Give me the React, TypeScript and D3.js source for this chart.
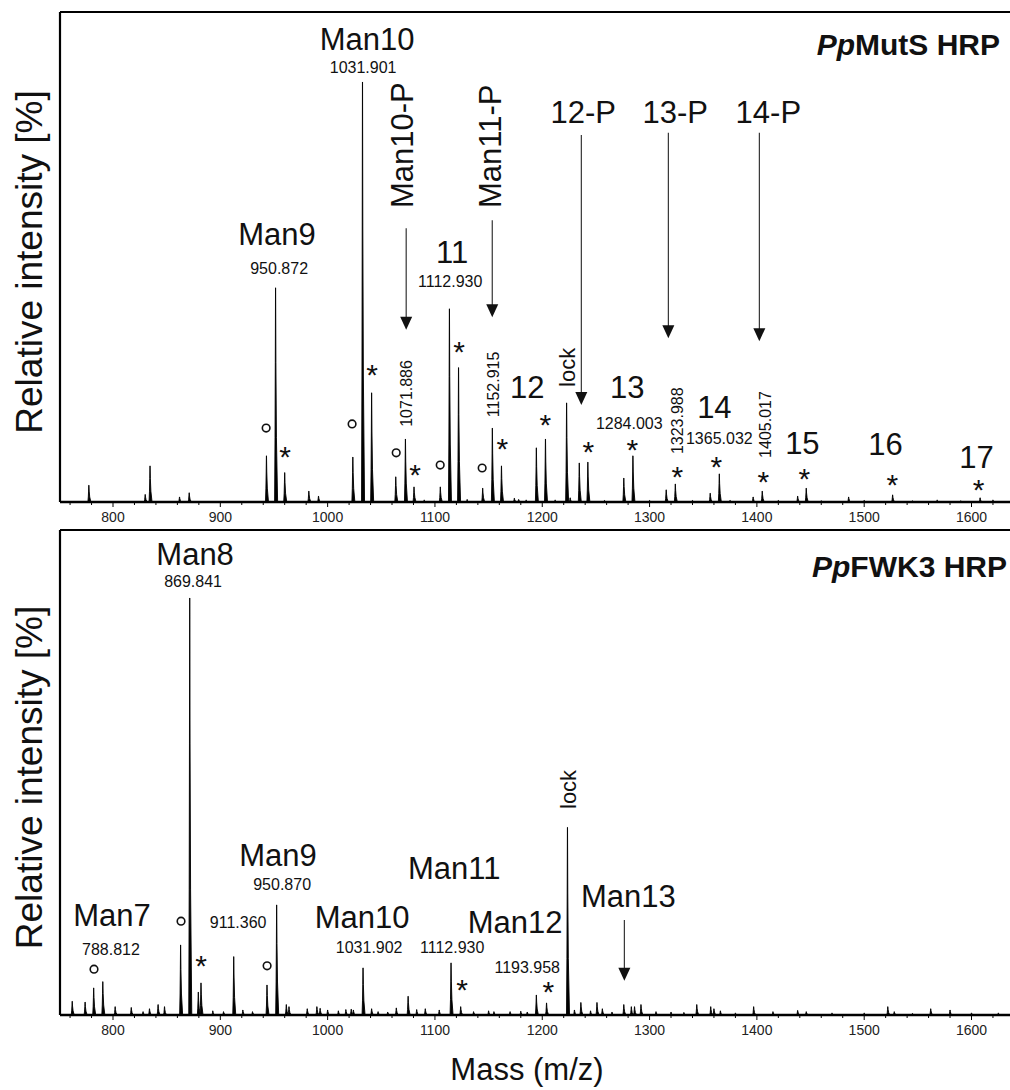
import React from 'react';
import * as d3 from 'd3';

const FONT = '"Liberation Sans", Arial, Helvetica, sans-serif';

const massTicks = [800, 900, 1000, 1100, 1200, 1300, 1400, 1500, 1600];
const minorTicks = d3.range(760, 1640, 20);

// [m/z, relative intensity %]
const mutsPeaks: [number, number][] = [
  [777.5, 4], [830, 1.8], [834.5, 8.6], [862, 1.2], [871, 2.2], [943, 11], [951.5, 51], [960, 7],
  [982.5, 2.6], [991.5, 1.4], [1023.5, 10.7], [1032.5, 100], [1041, 26], [1063.5, 6], [1072.5, 15],
  [1080.5, 3.6], [1090, 0.5], [1105, 3.6], [1113.5, 46], [1122, 32], [1130, 0.6], [1144.5, 3.3],
  [1153.5, 17.6], [1162, 8.6], [1174, 0.9], [1178, 0.6], [1185, 0.5], [1194.5, 12.9], [1203, 15],
  [1212, 0.5], [1222.7, 23.6], [1226, 1], [1234.5, 9.3], [1242.5, 9.5], [1258, 0.4], [1276, 5.7],
  [1284.5, 11], [1300, 0.4], [1315.5, 2.9], [1324, 4.3], [1340, 0.4], [1356.5, 2.1], [1365, 6.7],
  [1375, 0.4], [1396.5, 1.2], [1405, 2.6], [1420, 0.4], [1438, 1.4], [1446, 3.3], [1460, 0.3],
  [1485.5, 1.2], [1500, 0.4], [1526.5, 1.7], [1545, 0.3], [1568, 0.5], [1590, 0.3], [1608, 1], [1620, 0.5]
];

const fwk3Peaks: [number, number][] = [
  [762, 3.3], [774, 3.1], [782, 6.5], [790.5, 8], [802, 2], [817, 1.8], [828, 0.8], [834, 1.5], [842, 2.5],
  [848, 2], [863, 16.8], [871.5, 100], [879.5, 5.5], [882, 7.7], [893, 1], [903, 0.8], [912.5, 14],
  [921, 1.2], [930, 0.8], [943.5, 7.2], [952.5, 26.4], [961.5, 2.5], [964, 2], [981, 1.5], [990, 2],
  [993, 1.6], [1000, 1.2], [1010, 1], [1017, 1.3], [1022, 1.4], [1024, 1.2], [1033, 11.3], [1041, 1.5],
  [1047, 0.8], [1056, 0.7], [1064, 1.7], [1075, 4.5], [1083, 1.3], [1091, 1.5], [1104, 1.2], [1115, 12.5],
  [1124, 2], [1136, 0.8], [1150, 1], [1155, 0.8], [1170, 0.8], [1180, 0.9], [1186, 0.7], [1194.5, 4.8],
  [1204, 2.9], [1223.5, 45], [1230, 1.2], [1236, 3], [1245, 1], [1251, 3], [1256, 1.5], [1265, 0.7],
  [1276, 2.5], [1283, 2], [1286, 2], [1292, 2.5], [1306, 0.8], [1320, 0.7], [1332, 0.6], [1344, 2.5],
  [1357, 2], [1360, 1.5], [1366, 1], [1380, 0.5], [1397, 2], [1415, 0.8], [1438, 1.1], [1446, 0.8],
  [1470, 0.5], [1500, 0.5], [1522, 2], [1528, 0.8], [1545, 0.4], [1562, 1.5], [1580, 1.2], [1600, 0.5], [1625, 0.5]
];

// annotation text: kind picks the font, level is intensity % of baseline/bottom end
type Label = { text: string; kind: 'name' | 'mass' | 'lock'; mz: number; level: number; up?: boolean };

const mutsLabels: Label[] = [
  { text: 'Man10', kind: 'name', mz: 1036.8, level: 107.6 },
  { text: '1031.901', kind: 'mass', mz: 1033.1, level: 102.1 },
  { text: 'Man9', kind: 'name', mz: 952.9, level: 61.2 },
  { text: '950.872', kind: 'mass', mz: 954.8, level: 54.3 },
  { text: '11', kind: 'name', mz: 1116.1, level: 56.9 },
  { text: '1112.930', kind: 'mass', mz: 1114.2, level: 51.2 },
  { text: '12', kind: 'name', mz: 1186, level: 24.8 },
  { text: '13', kind: 'name', mz: 1279.3, level: 24.8 },
  { text: '1284.003', kind: 'mass', mz: 1281.1, level: 17.4 },
  { text: '14', kind: 'name', mz: 1360.4, level: 20 },
  { text: '1365.032', kind: 'mass', mz: 1365, level: 13.8 },
  { text: '15', kind: 'name', mz: 1442.4, level: 11.4 },
  { text: '16', kind: 'name', mz: 1519.8, level: 11.2 },
  { text: '17', kind: 'name', mz: 1604.7, level: 8.1 },
  { text: '12-P', kind: 'name', mz: 1238.2, level: 90.2 },
  { text: '13-P', kind: 'name', mz: 1324, level: 90.2 },
  { text: '14-P', kind: 'name', mz: 1410.7, level: 90.2 },
  { text: 'Man10-P', kind: 'name', mz: 1069.4, level: 70, up: true },
  { text: 'Man11-P', kind: 'name', mz: 1151.5, level: 70, up: true },
  { text: '1071.886', kind: 'mass', mz: 1073, level: 17.9, up: true },
  { text: '1152.915', kind: 'mass', mz: 1154.3, level: 20.2, up: true },
  { text: 'lock', kind: 'lock', mz: 1223.3, level: 27.4, up: true },
  { text: '1323.988', kind: 'mass', mz: 1325.9, level: 11.4, up: true },
  { text: '1405.017', kind: 'mass', mz: 1407.9, level: 10.5, up: true }
];

const fwk3Labels: Label[] = [
  { text: 'Man8', kind: 'name', mz: 876.5, level: 107.9 },
  { text: '869.841', kind: 'mass', mz: 874.6, level: 102.6 },
  { text: 'Man7', kind: 'name', mz: 799, level: 21.3 },
  { text: '788.812', kind: 'mass', mz: 798.1, level: 14.4 },
  { text: '911.360', kind: 'mass', mz: 916.6, level: 20.9 },
  { text: 'Man9', kind: 'name', mz: 953.8, level: 35.7 },
  { text: '950.870', kind: 'mass', mz: 957.6, level: 30 },
  { text: 'Man10', kind: 'name', mz: 1032.2, level: 20.9 },
  { text: '1031.902', kind: 'mass', mz: 1038.7, level: 14.9 },
  { text: 'Man11', kind: 'name', mz: 1117.9, level: 32.6 },
  { text: '1112.930', kind: 'mass', mz: 1116.1, level: 14.9 },
  { text: 'Man12', kind: 'name', mz: 1174.8, level: 19.7 },
  { text: '1193.958', kind: 'mass', mz: 1186, level: 10.1 },
  { text: 'Man13', kind: 'name', mz: 1280.2, level: 25.9 },
  { text: 'lock', kind: 'lock', mz: 1224.2, level: 49.4, up: true }
];

// arrows: [m/z, from %, to %]
const mutsArrows: [number, number, number][] = [
  [1073.2, 65.2, 41], [1153.4, 67.1, 44], [1236.4, 87.4, 23.1], [1317.5, 87.9, 39], [1402.3, 87.9, 38.3]
];
const fwk3Arrows: [number, number, number][] = [[1276.5, 22.8, 8.2]];

// "o" and "*" marks: [m/z, %]
const mutsCircles: [number, number][] = [[942.7, 17.6], [1022.8, 18.6], [1063.9, 11.7], [1104.9, 8.8], [1144, 8.1]];
const mutsStars: [number, number][] = [
  [960.4, 12.4], [1041.5, 31.9], [1081.6, 8.1], [1122.6, 37.4], [1162.7, 14.3], [1202.8, 20], [1242.9, 13.6],
  [1283.9, 14], [1325.9, 7.6], [1362.2, 10], [1406.1, 6.4], [1444.3, 7.1], [1526.3, 5.7], [1606.5, 4.5]
];
const fwk3Circles: [number, number][] = [[782.3, 11], [863.4, 22.5], [943.6, 11.8]];
const fwk3Stars: [number, number][] = [[882, 13.4], [1125.4, 7.7], [1205.6, 7.2]];

const x = d3.scaleLinear().domain([800, 1600]).range([113, 971.5]);
const LEFT = 60;
const RIGHT = 1010;

const fontSize = { name: 31, mass: 16, lock: 22 };

function peakPath(y: d3.ScaleLinear<number, number>, mz: number, h: number) {
  const line = d3.line<[number, number]>().x(d => x(d[0])).y(d => y(d[1]));
  return line([
    [mz - 0.9, 0], [mz - 0.5, h * 0.3], [mz - 0.25, h * 0.65], [mz - 0.05, h],
    [mz + 0.05, h], [mz + 0.3, h * 0.65], [mz + 0.8, h * 0.3], [mz + 1.9, 0]
  ]);
}

function Panel({ top, y, peaks, labels, arrows, circles, stars, title, sub }: any) {
  const base = y(0);
  return (
    <g>
      <line x1={LEFT} x2={RIGHT} y1={top} y2={top} stroke="#000" strokeWidth={2.2} />
      <line x1={LEFT} x2={LEFT} y1={top} y2={base} stroke="#000" strokeWidth={2.2} />
      {peaks.map((p: [number, number], i: number) => (
        <path key={i} d={peakPath(y, p[0], p[1]) as string} fill="#000" stroke="#000" strokeWidth={0.9} strokeLinejoin="round" />
      ))}
      <line x1={LEFT} x2={RIGHT} y1={base} y2={base} stroke="#000" strokeWidth={2.4} />
      {minorTicks.map(t => (
        <line key={t} x1={x(t)} x2={x(t)} y1={base} y2={base + (t % 100 === 0 ? 5 : 3)} stroke="#000" strokeWidth={1} />
      ))}
      {massTicks.map(t => (
        <text key={t} x={x(t)} y={base + 20} textAnchor="middle" fontSize={14} fill="#222">{t}</text>
      ))}
      {labels.map((l: Label, i: number) => l.up ? (
        <text key={i} transform={`translate(${x(l.mz)},${y(l.level)}) rotate(-90)`} dy="0.35em"
          fontSize={fontSize[l.kind]} fill="#111">{l.text}</text>
      ) : (
        <text key={i} x={x(l.mz)} y={y(l.level)} textAnchor="middle" fontSize={fontSize[l.kind]} fill="#111">{l.text}</text>
      ))}
      {arrows.map((a: [number, number, number], i: number) => {
        const ax = x(a[0]);
        const y1 = y(a[1]);
        const y2 = y(a[2]);
        return (
          <g key={i}>
            <line x1={ax} x2={ax} y1={y1} y2={y2 - 12} stroke="#222" strokeWidth={1.1} />
            <path d={`M${ax - 6},${y2 - 13}L${ax + 6},${y2 - 13}L${ax},${y2}Z`} fill="#111" />
          </g>
        );
      })}
      {circles.map((c: [number, number], i: number) => (
        <circle key={i} cx={x(c[0])} cy={y(c[1])} r={3.8} fill="none" stroke="#111" strokeWidth={1.6} />
      ))}
      {stars.map((s: [number, number], i: number) => (
        <text key={i} x={x(s[0])} y={y(s[1]) + 17} textAnchor="middle" fontSize={30} fill="#111">*</text>
      ))}
      <text x={title[0]} y={title[1]} textAnchor="end" fontSize={30} fontWeight="bold" fill="#111">
        <tspan fontStyle="italic">Pp</tspan>{sub}
      </text>
      <text transform={`translate(29,${(top + base) / 2 + 5}) rotate(-90)`} dy="0.35em" textAnchor="middle" fontSize={37} fill="#111">
        Relative intensity [%]
      </text>
    </g>
  );
}

export default function App() {
  const yTop = d3.scaleLinear().domain([0, 100]).range([502, 82]);
  const yBot = d3.scaleLinear().domain([0, 100]).range([1015, 598]);
  return (
    <svg width={1010} height={1090} style={{ position: 'absolute', left: 0, top: 0, background: '#fff' }}
      fontFamily={FONT}>
      <rect width={1010} height={1090} fill="#fff" />
      <Panel top={12} y={yTop} peaks={mutsPeaks} labels={mutsLabels} arrows={mutsArrows}
        circles={mutsCircles} stars={mutsStars} title={[1000, 55]} sub="MutS HRP" />
      <Panel top={530} y={yBot} peaks={fwk3Peaks} labels={fwk3Labels} arrows={fwk3Arrows}
        circles={fwk3Circles} stars={fwk3Stars} title={[1007, 577]} sub="FWK3 HRP" />
      <text x={527} y={1080} textAnchor="middle" fontSize={31} fill="#111">Mass (m/z)</text>
    </svg>
  );
}
